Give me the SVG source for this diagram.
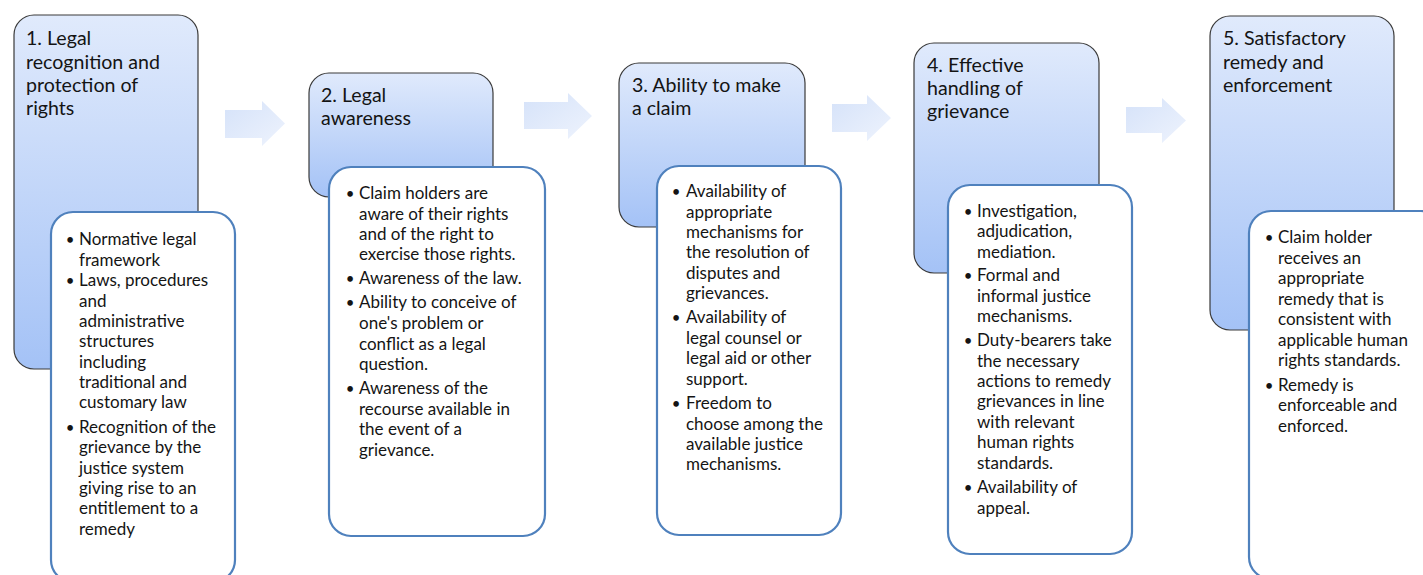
<svg xmlns="http://www.w3.org/2000/svg" width="1423" height="575" viewBox="0 0 1423 575">
  <defs>
    <linearGradient id="headFill" x1="0" y1="0" x2="0" y2="1">
      <stop offset="0" stop-color="#e0eafc"/>
      <stop offset="1" stop-color="#a4c2f6"/>
    </linearGradient>
    <linearGradient id="arrowFill" x1="0" y1="0" x2="1" y2="1">
      <stop offset="0" stop-color="#d5e2f9"/>
      <stop offset="1" stop-color="#eef3fd"/>
    </linearGradient>
    <style>
      .head { fill: url(#headFill); stroke: #3a3a3a; stroke-width: 1.2; }
      .card { fill: #ffffff; stroke: #4f81bd; stroke-width: 2.2; }
      .arrow { fill: url(#arrowFill); stroke: none; }
      .ht { font-family: Lato, "Liberation Sans", sans-serif; font-size: 19.6px; fill: #141414; }
      .bt { font-family: Lato, "Liberation Sans", sans-serif; font-size: 17px; fill: #141414; }
      .dot { font-family: Lato, "Liberation Sans", sans-serif; font-size: 15px; fill: #141414; text-anchor: middle; }
    </style>
  </defs>

  <rect width="1423" height="575" fill="#ffffff"/>

  <!-- flow arrows between stages -->
  <g id="connectors">
    <polygon class="arrow" points="225,110 262,110 262,101 285,123.5 262,146 262,138 225,138"/>
    <polygon class="arrow" points="524,102 568,102 568,93 592,116 568,139 568,129 524,129"/>
    <polygon class="arrow" points="832,104 867,104 867,95 891,118 867,141 867,132 832,132"/>
    <polygon class="arrow" points="1126,107 1162,107 1162,98 1186,120.5 1162,143 1162,133 1126,133"/>
  </g>

  <!-- stage 1 -->
  <g id="stage1">
    <rect class="head" x="14" y="15" width="184" height="354" rx="20"/>
    <text class="ht">
      <tspan x="26" y="45">1. Legal</tspan>
      <tspan x="26" y="69">recognition and</tspan>
      <tspan x="26" y="92">protection of</tspan>
      <tspan x="26" y="115">rights</tspan>
    </text>
    <rect class="card" x="51" y="212" width="184" height="370" rx="22"/>
    <text class="dot" x="70" y="245">•</text>
    <text class="dot" x="70" y="286">•</text>
    <text class="dot" x="70" y="433">•</text>
    <text class="bt">
      <tspan x="79" y="245">Normative legal</tspan>
      <tspan x="79" y="265.5">framework</tspan>
      <tspan x="79" y="286">Laws, procedures</tspan>
      <tspan x="79" y="306.5">and</tspan>
      <tspan x="79" y="327">administrative</tspan>
      <tspan x="79" y="347">structures</tspan>
      <tspan x="79" y="367.5">including</tspan>
      <tspan x="79" y="388">traditional and</tspan>
      <tspan x="79" y="408">customary law</tspan>
      <tspan x="79" y="433">Recognition of the</tspan>
      <tspan x="79" y="453">grievance by the</tspan>
      <tspan x="79" y="473.5">justice system</tspan>
      <tspan x="79" y="494">giving rise to an</tspan>
      <tspan x="79" y="514">entitlement to a</tspan>
      <tspan x="79" y="535">remedy</tspan>
    </text>
  </g>

  <!-- stage 2 -->
  <g id="stage2">
    <rect class="head" x="309" y="73" width="184" height="124" rx="20"/>
    <text class="ht">
      <tspan x="321" y="102">2. Legal</tspan>
      <tspan x="321" y="125">awareness</tspan>
    </text>
    <rect class="card" x="329" y="167" width="216" height="369" rx="22"/>
    <text class="dot" x="350" y="199">•</text>
    <text class="dot" x="350" y="284">•</text>
    <text class="dot" x="350" y="308">•</text>
    <text class="dot" x="350" y="394">•</text>
    <text class="bt">
      <tspan x="359" y="199">Claim holders are</tspan>
      <tspan x="359" y="219.5">aware of their rights</tspan>
      <tspan x="359" y="240">and of the right to</tspan>
      <tspan x="359" y="260">exercise those rights.</tspan>
      <tspan x="359" y="284">Awareness of the law.</tspan>
      <tspan x="359" y="308">Ability to conceive of</tspan>
      <tspan x="359" y="329">one's problem or</tspan>
      <tspan x="359" y="349.5">conflict as a legal</tspan>
      <tspan x="359" y="370">question.</tspan>
      <tspan x="359" y="394">Awareness of the</tspan>
      <tspan x="359" y="414.5">recourse available in</tspan>
      <tspan x="359" y="435">the event of a</tspan>
      <tspan x="359" y="455.5">grievance.</tspan>
    </text>
  </g>

  <!-- stage 3 -->
  <g id="stage3">
    <rect class="head" x="619" y="63" width="186" height="164" rx="20"/>
    <text class="ht">
      <tspan x="632" y="92">3. Ability to make</tspan>
      <tspan x="632" y="115">a claim</tspan>
    </text>
    <rect class="card" x="657" y="166" width="184" height="369" rx="22"/>
    <text class="dot" x="676" y="197">•</text>
    <text class="dot" x="676" y="323">•</text>
    <text class="dot" x="676" y="409">•</text>
    <text class="bt">
      <tspan x="686" y="197">Availability of</tspan>
      <tspan x="686" y="217.5">appropriate</tspan>
      <tspan x="686" y="238">mechanisms for</tspan>
      <tspan x="686" y="258">the resolution of</tspan>
      <tspan x="686" y="278.5">disputes and</tspan>
      <tspan x="686" y="299">grievances.</tspan>
      <tspan x="686" y="323">Availability of</tspan>
      <tspan x="686" y="343.5">legal counsel or</tspan>
      <tspan x="686" y="364">legal aid or other</tspan>
      <tspan x="686" y="384.5">support.</tspan>
      <tspan x="686" y="409">Freedom to</tspan>
      <tspan x="686" y="429.5">choose among the</tspan>
      <tspan x="686" y="450">available justice</tspan>
      <tspan x="686" y="470">mechanisms.</tspan>
    </text>
  </g>

  <!-- stage 4 -->
  <g id="stage4">
    <rect class="head" x="914" y="43" width="185" height="230" rx="20"/>
    <text class="ht">
      <tspan x="927" y="72">4. Effective</tspan>
      <tspan x="927" y="95">handling of</tspan>
      <tspan x="927" y="118">grievance</tspan>
    </text>
    <rect class="card" x="948" y="185" width="184" height="369" rx="22"/>
    <text class="dot" x="968" y="217">•</text>
    <text class="dot" x="968" y="281">•</text>
    <text class="dot" x="968" y="346">•</text>
    <text class="dot" x="968" y="493">•</text>
    <text class="bt">
      <tspan x="977" y="217">Investigation,</tspan>
      <tspan x="977" y="237">adjudication,</tspan>
      <tspan x="977" y="257.5">mediation.</tspan>
      <tspan x="977" y="281">Formal and</tspan>
      <tspan x="977" y="301.5">informal justice</tspan>
      <tspan x="977" y="322">mechanisms.</tspan>
      <tspan x="977" y="346">Duty-bearers take</tspan>
      <tspan x="977" y="366.5">the necessary</tspan>
      <tspan x="977" y="387">actions to remedy</tspan>
      <tspan x="977" y="407">grievances in line</tspan>
      <tspan x="977" y="427.5">with relevant</tspan>
      <tspan x="977" y="448">human rights</tspan>
      <tspan x="977" y="468.5">standards.</tspan>
      <tspan x="977" y="493">Availability of</tspan>
      <tspan x="977" y="513.5">appeal.</tspan>
    </text>
  </g>

  <!-- stage 5 -->
  <g id="stage5">
    <rect class="head" x="1210" y="16" width="184" height="314" rx="20"/>
    <text class="ht">
      <tspan x="1223" y="45">5. Satisfactory</tspan>
      <tspan x="1223" y="68.5">remedy and</tspan>
      <tspan x="1223" y="92">enforcement</tspan>
    </text>
    <rect class="card" x="1249" y="211" width="194" height="368" rx="22"/>
    <text class="dot" x="1269" y="243">•</text>
    <text class="dot" x="1269" y="390.5">•</text>
    <text class="bt">
      <tspan x="1278" y="243">Claim holder</tspan>
      <tspan x="1278" y="263.5">receives an</tspan>
      <tspan x="1278" y="284">appropriate</tspan>
      <tspan x="1278" y="304.5">remedy that is</tspan>
      <tspan x="1278" y="325">consistent with</tspan>
      <tspan x="1278" y="345.5">applicable human</tspan>
      <tspan x="1278" y="366">rights standards.</tspan>
      <tspan x="1278" y="390.5">Remedy is</tspan>
      <tspan x="1278" y="411">enforceable and</tspan>
      <tspan x="1278" y="431.5">enforced.</tspan>
    </text>
  </g>
</svg>
